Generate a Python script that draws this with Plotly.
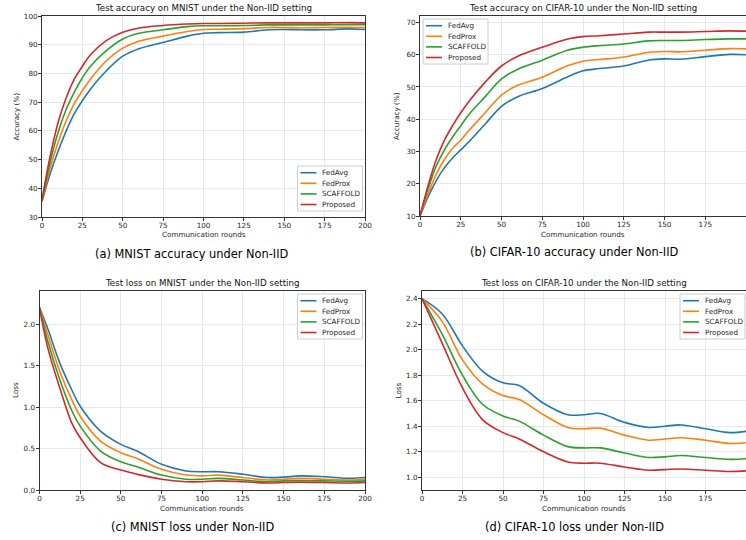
import plotly.graph_objects as go
from plotly.subplots import make_subplots

methods = ["FedAvg", "FedProx", "SCAFFOLD", "Proposed"]
colors = ["#1f77b4", "#ff7f0e", "#2ca02c", "#d62728"]

# --- MNIST accuracy ---
acc_rounds = [0, 5, 10, 15, 20, 25, 30, 40, 50, 60, 75, 90, 100, 110, 125, 140, 150, 160, 175, 190, 200]
mnist_acc = {
    "FedAvg":   [35.5, 45, 53, 60, 66, 70.5, 74.5, 81, 86, 88.6, 90.8, 93, 94, 94.2, 94.4, 95.2, 95.3, 95.2, 95.2, 95.5, 95.3],
    "FedProx":  [35.5, 47, 56, 63.5, 69.5, 74, 78, 84.5, 88.8, 91.2, 93, 94.6, 95.3, 95.4, 95.6, 96, 96, 95.9, 96, 96.1, 96],
    "SCAFFOLD": [35.5, 49, 59.5, 67.5, 73.5, 78.5, 82.5, 88, 92, 94, 95.2, 96.3, 96.6, 96.6, 96.7, 96.9, 96.9, 96.9, 96.9, 97, 97],
    "Proposed": [36, 51, 63, 71.5, 78, 82.5, 86.5, 91.5, 94.3, 95.8, 96.7, 97.2, 97.4, 97.4, 97.5, 97.6, 97.6, 97.6, 97.6, 97.7, 97.6],
}

# --- CIFAR-10 accuracy ---
cifar_acc = {
    "FedAvg":   [10, 16, 21, 25, 28, 30.5, 33, 38.5, 44, 47, 49.5, 53, 55, 55.7, 56.5, 58.3, 58.7, 58.6, 59.4, 60.1, 60],
    "FedProx":  [10, 17, 23, 27.5, 31, 33.5, 36.5, 42, 47.5, 50.5, 53, 56.5, 58, 58.5, 59.3, 60.7, 61, 60.9, 61.4, 61.9, 61.8],
    "SCAFFOLD": [10, 18.5, 25.5, 30.5, 34.5, 38, 41.5, 47, 52.5, 55.5, 58.3, 61.3, 62.3, 62.8, 63.3, 64.3, 64.4, 64.4, 64.7, 64.9, 64.9],
    "Proposed": [10, 19.5, 27.5, 33.5, 38, 42, 45.5, 51.5, 56.5, 59.5, 62.3, 64.8, 65.6, 65.9, 66.4, 67, 67, 67, 67.2, 67.4, 67.3],
}

# --- MNIST loss ---
loss_rounds = [0, 5, 12.5, 20, 25, 37.5, 50, 60, 75, 90, 100, 110, 125, 140, 150, 160, 175, 190, 200]
mnist_loss = {
    "FedAvg":   [2.2, 1.95, 1.53, 1.2, 1.01, 0.71, 0.55, 0.47, 0.31, 0.23, 0.22, 0.22, 0.19, 0.15, 0.155, 0.17, 0.16, 0.14, 0.15],
    "FedProx":  [2.2, 1.88, 1.43, 1.08, 0.89, 0.59, 0.45, 0.38, 0.25, 0.18, 0.17, 0.18, 0.15, 0.12, 0.13, 0.14, 0.13, 0.12, 0.13],
    "SCAFFOLD": [2.2, 1.8, 1.33, 0.95, 0.77, 0.47, 0.34, 0.28, 0.18, 0.13, 0.13, 0.14, 0.12, 0.1, 0.11, 0.115, 0.11, 0.105, 0.11],
    "Proposed": [2.2, 1.72, 1.23, 0.8, 0.63, 0.33, 0.24, 0.19, 0.13, 0.1, 0.1, 0.11, 0.1, 0.085, 0.09, 0.095, 0.09, 0.085, 0.09],
}

# --- CIFAR-10 loss ---
closs_rounds = [0, 12.5, 25, 37.5, 50, 60, 75, 90, 100, 110, 125, 140, 150, 160, 175, 190, 200]
cifar_loss = {
    "FedAvg":   [2.4, 2.28, 2.03, 1.83, 1.74, 1.72, 1.58, 1.49, 1.49, 1.5, 1.43, 1.39, 1.4, 1.41, 1.38, 1.35, 1.36],
    "FedProx":  [2.4, 2.22, 1.92, 1.73, 1.64, 1.61, 1.49, 1.39, 1.38, 1.385, 1.33, 1.29, 1.3, 1.31, 1.29, 1.265, 1.27],
    "SCAFFOLD": [2.4, 2.12, 1.8, 1.57, 1.48, 1.44, 1.33, 1.24, 1.23, 1.23, 1.19, 1.155, 1.16, 1.17, 1.155, 1.14, 1.145],
    "Proposed": [2.4, 2.05, 1.7, 1.45, 1.35, 1.3, 1.2, 1.12, 1.11, 1.11, 1.08, 1.055, 1.06, 1.065, 1.055, 1.045, 1.05],
}

titles = ["Test accuracy on MNIST under the Non-IID setting",
          "Test accuracy on CIFAR-10 under the Non-IID setting",
          "Test loss on MNIST under the Non-IID setting",
          "Test loss on CIFAR-10 under the Non-IID setting"]
captions = ["(a) MNIST accuracy under Non-IID", "(b) CIFAR-10 accuracy under Non-IID",
            "(c) MNIST loss under Non-IID", "(d) CIFAR-10 loss under Non-IID"]

W, H = 746, 540
FONT = "DejaVu Sans"
TXT = "#262626"
SMALL = 7.2

fig = make_subplots(rows=2, cols=2)

panels = [(acc_rounds, mnist_acc, 1, 1),
          (acc_rounds, cifar_acc, 1, 2),
          (loss_rounds, mnist_loss, 2, 1),
          (closs_rounds, cifar_loss, 2, 2)]

for xs, series, r, c in panels:
    for m, col in zip(methods, colors):
        fig.add_trace(go.Scatter(x=xs, y=series[m], name=m, mode="lines", showlegend=False,
                                 line=dict(color=col, width=1.6, shape="spline", smoothing=1)),
                      row=r, col=c)


def px(x):
    return x / W


def py(y):
    return 1 - y / H


# panel boxes in pixels: (left, right, top, bottom); right panels end at the page edge,
# so their "200" tick label is cut in half like the reference
boxes = [(42, 365, 16, 217), (420, 746, 16, 216), (39.5, 365, 291, 490), (422, 746, 291, 490)]
yranges = [[30, 100], [10, 72], [0, 2.4], [0.9, 2.46]]
ydticks = [10, 10, 0.5, 0.2]
ylabels = ["Accuracy (%)", "Accuracy (%)", "Loss", "Loss"]
ylabel_x = [16, 397, 15.5, 398]
caption_x = [192, 574.6, 192, 574.6]

axis_common = dict(showline=True, linecolor="#333", linewidth=1, mirror=True, automargin=False,
                   showgrid=True, gridcolor="#e8e8e8", gridwidth=1, zeroline=False,
                   ticks="outside", ticklen=3, tickcolor="#333",
                   tickfont=dict(family=FONT, size=SMALL, color=TXT))

for i, (l, r_, t, b) in enumerate(boxes):
    n = "" if i == 0 else str(i + 1)
    fig.layout["xaxis" + n].update(domain=[px(l), px(r_)], range=[0, 200], tick0=0, dtick=25,
                                   ticklabelstandoff=-2, **axis_common)
    fig.layout["yaxis" + n].update(domain=[py(b), py(t)], range=yranges[i], dtick=ydticks[i],
                                   tickformat=".1f" if i >= 2 else "d",
                                   ticklabelstandoff=-1, **axis_common)
    cx = (l + r_) / 2
    fig.add_annotation(text=titles[i], x=px(cx), y=py(t - 7.8), xref="paper", yref="paper",
                       showarrow=False, xanchor="center", yanchor="middle",
                       font=dict(family=FONT, size=8.7, color="#111"))
    fig.add_annotation(text="Communication rounds", x=px(cx), y=py(b + 18), xref="paper", yref="paper",
                       showarrow=False, xanchor="center", yanchor="middle",
                       font=dict(family=FONT, size=SMALL, color=TXT))
    fig.add_annotation(text=ylabels[i], x=px(ylabel_x[i]), y=py((t + b) / 2), xref="paper", yref="paper",
                       showarrow=False, xanchor="center", yanchor="middle", textangle=-90,
                       font=dict(family=FONT, size=SMALL, color=TXT))
    fig.add_annotation(text=captions[i], x=px(caption_x[i]), y=py(b + 36.5), xref="paper", yref="paper",
                       showarrow=False, xanchor="center", yanchor="middle",
                       font=dict(family=FONT, size=11.4, color="#000"))

# compact matplotlib-like legends: (box left, box top) in pixels
legend_boxes = [(297.5, 166), (423, 19), (297.5, 294), (680, 294)]
LW, LH, STEP = 65, 45, 10.6
for bx, by in legend_boxes:
    fig.add_shape(type="rect", xref="paper", yref="paper",
                  x0=px(bx), x1=px(bx + LW), y0=py(by + LH), y1=py(by),
                  line=dict(color="#cccccc", width=1), fillcolor="rgba(255,255,255,0.85)")
    for k, (m, col) in enumerate(zip(methods, colors)):
        yy = by + 6.7 + k * STEP
        fig.add_shape(type="line", xref="paper", yref="paper",
                      x0=px(bx + 3), x1=px(bx + 19), y0=py(yy), y1=py(yy),
                      line=dict(color=col, width=1.6))
        fig.add_annotation(text=m, x=px(bx + 22.5), y=py(yy), xref="paper", yref="paper",
                           showarrow=False, xanchor="left", yanchor="middle",
                           font=dict(family=FONT, size=SMALL, color=TXT))

fig.update_layout(width=W, height=H, autosize=False, margin=dict(l=0, r=0, t=0, b=0),
                  plot_bgcolor="white", paper_bgcolor="white", showlegend=False,
                  font=dict(family=FONT))

# drop the browser's default 8px body margin so the figure fills the window exactly
fig.write_html("out.html", config={"displayModeBar": False},
               post_script="document.body.style.margin = '0';")
